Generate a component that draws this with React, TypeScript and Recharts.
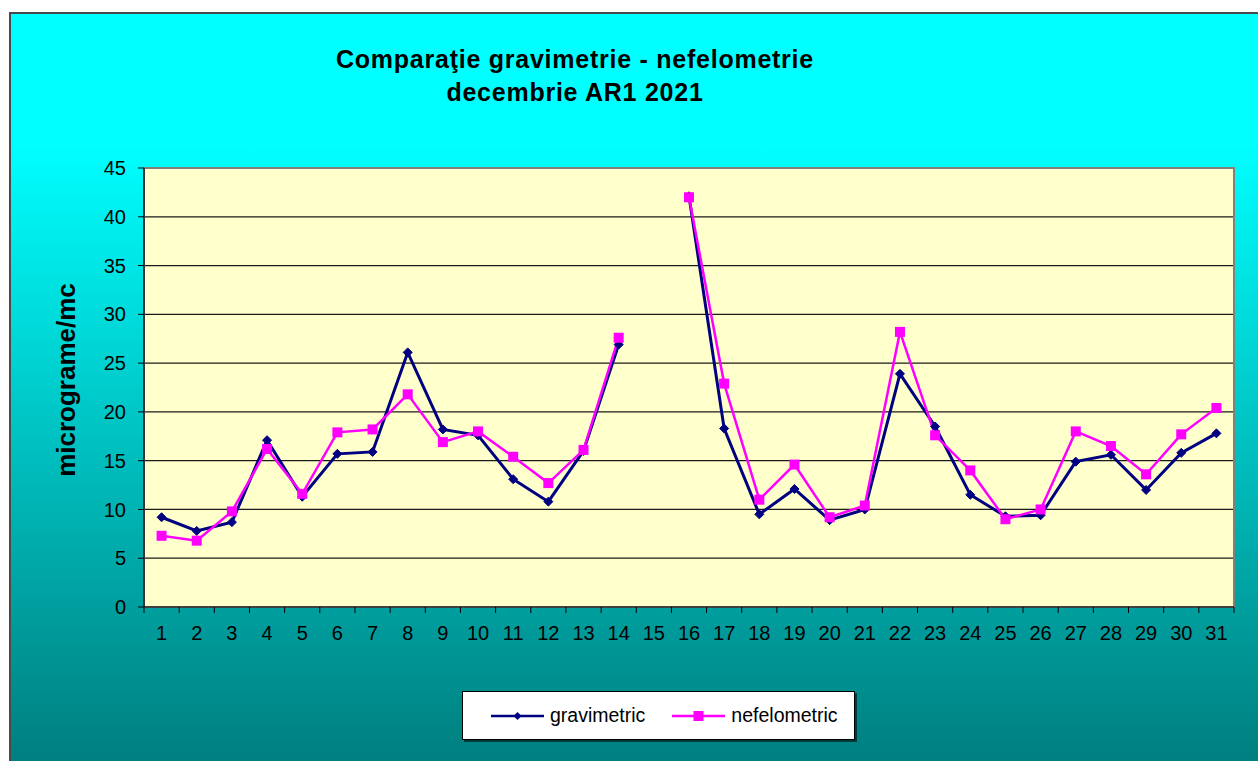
import React from 'react'
import { LineChart, Line, XAxis, YAxis, CartesianGrid, Legend, ReferenceArea, Label } from 'recharts'

// zilele lunii (decembrie 2021)
const days = [1, 2, 3, 4, 5, 6, 7, 8, 9, 10, 11, 12, 13, 14, 15, 16, 17, 18, 19, 20, 21, 22, 23, 24, 25, 26, 27, 28, 29, 30, 31]

// valori in micrograme/mc, ziua 15 lipseste
const gravimetric = [9.2, 7.8, 8.7, 17.1, 11.3, 15.7, 15.9, 26.1, 18.2, 17.6, 13.1, 10.8, 16.0, 26.9, null, 42.1, 18.3, 9.5, 12.1, 8.9, 10.0, 23.9, 18.5, 11.5, 9.3, 9.4, 14.9, 15.6, 12.0, 15.8, 17.8]
const nefelometric = [7.3, 6.8, 9.8, 16.2, 11.6, 17.9, 18.2, 21.8, 16.9, 18.0, 15.4, 12.7, 16.1, 27.6, null, 42.0, 22.9, 11.0, 14.6, 9.2, 10.4, 28.2, 17.6, 14.0, 9.0, 10.0, 18.0, 16.5, 13.6, 17.7, 20.4]

const yTicks = [0, 5, 10, 15, 20, 25, 30, 35, 40, 45]

const CHART_W = 1258
const CHART_H = 761
const MARGIN = { top: 168, right: 24, bottom: 114, left: 84 }
const Y_AXIS_W = 60
const X_AXIS_H = 40
const PLOT_W = CHART_W - MARGIN.left - MARGIN.right - Y_AXIS_W

const FONT = '"Liberation Sans", Arial, Helvetica, sans-serif'

const chartData = days.map((day, i) => ({
  day,
  gravimetric: gravimetric[i],
  nefelometric: nefelometric[i],
}))

const NAVY = '#000080'
const MAGENTA = '#FF00FF'

const Diamond = (props: any) => {
  const { cx, cy, index } = props
  if (cx == null || cy == null || props.value == null) return <g key={`d-${index}`} />
  const r = 4.5
  return (
    <polygon
      key={`d-${index}`}
      points={`${cx},${cy - r} ${cx + r},${cy} ${cx},${cy + r} ${cx - r},${cy}`}
      fill={NAVY}
      stroke={NAVY}
      strokeWidth={1}
    />
  )
}

const Square = (props: any) => {
  const { cx, cy, index } = props
  if (cx == null || cy == null || props.value == null) return <g key={`s-${index}`} />
  const r = 5
  return <rect key={`s-${index}`} x={cx - r} y={cy - r} width={r * 2} height={r * 2} fill={MAGENTA} />
}

// etichetele axei X + liniutele intre categorii
const XTick = (props: any) => {
  const { x, y, payload, index } = props
  const half = PLOT_W / days.length / 2
  const axisY = y - 6
  return (
    <g>
      <line x1={x - half} x2={x - half} y1={axisY} y2={axisY + 6} stroke="#000" strokeWidth={1} />
      {index === days.length - 1 && (
        <line x1={x + half} x2={x + half} y1={axisY} y2={axisY + 6} stroke="#000" strokeWidth={1} />
      )}
      <text x={x} y={axisY + 33} textAnchor="middle" fontSize={20} fill="#000" fontFamily={FONT}>
        {payload.value}
      </text>
    </g>
  )
}

const renderYLabel = () => (
  <text
    x={75}
    y={380}
    transform="rotate(-90, 75, 380)"
    textAnchor="middle"
    fontSize={26}
    fontWeight="bold"
    fill="#000"
    fontFamily={FONT}
  >
    micrograme/mc
  </text>
)

const LegendIcon = ({ color, kind }: { color: string; kind: string }) => (
  <svg width={53} height={14} style={{ display: 'block' }}>
    <line x1={0} x2={53} y1={7} y2={7} stroke={color} strokeWidth={2.5} />
    {kind === 'gravimetric' ? (
      <polygon points="26.5,3 30.5,7 26.5,11 22.5,7" fill={color} />
    ) : (
      <rect x={21.5} y={2} width={10} height={10} fill={color} />
    )}
  </svg>
)

const renderLegend = (props: any) => {
  const { payload } = props
  return (
    <div
      style={{
        width: '100%',
        height: '100%',
        boxSizing: 'border-box',
        background: '#fff',
        border: '1px solid #000',
        boxShadow: '2px 2px 0 rgba(0,0,0,0.55)',
        display: 'flex',
        alignItems: 'center',
        paddingLeft: 28,
        fontFamily: FONT,
        fontSize: 19.5,
        color: '#000',
      }}
    >
      {(payload || []).map((entry: any, i: number) => (
        <div key={entry.value} style={{ display: 'flex', alignItems: 'center', marginLeft: i === 0 ? 0 : 27 }}>
          <LegendIcon color={entry.color} kind={entry.dataKey} />
          <span style={{ marginLeft: 6 }}>{entry.value}</span>
        </div>
      ))}
    </div>
  )
}

export default function App() {
  return (
    <div style={{ position: 'relative', width: CHART_W, height: CHART_H, overflow: 'hidden', background: '#fff', fontFamily: FONT }}>
      <style>{`body { margin: 0; }`}</style>

      {/* fundal cu gradient */}
      <div
        style={{
          position: 'absolute',
          left: 9,
          top: 12,
          width: 1300,
          height: 800,
          border: '2px solid #4a4a4a',
          background: 'linear-gradient(to bottom, #00FFFF 0px, #00FFFF 130px, #008080 740px)',
        }}
      />

      {/* titlu */}
      <div
        style={{
          position: 'absolute',
          left: 275,
          top: 43,
          width: 600,
          textAlign: 'center',
          fontSize: 25,
          fontWeight: 'bold',
          lineHeight: '33px',
          letterSpacing: 0.75,
          color: '#000',
          zIndex: 2,
        }}
      >
        <div>Comparaţie gravimetrie - nefelometrie</div>
        <div>decembrie AR1 2021</div>
      </div>

      <div style={{ position: 'absolute', left: 0, top: 0, zIndex: 1 }}>
        <LineChart width={CHART_W} height={CHART_H} data={chartData} margin={MARGIN}>
          <CartesianGrid vertical={false} horizontal fill="#FFFFCC" fillOpacity={1} stroke="#1a1a1a" strokeWidth={1.2} />
          <ReferenceArea x1={0.5} x2={31.5} y1={0} y2={45} fill="none" stroke="#808080" strokeWidth={2} />
          <XAxis
            type="number"
            dataKey="day"
            domain={[0.5, 31.5]}
            ticks={days}
            interval={0}
            allowDataOverflow
            height={X_AXIS_H}
            tickLine={false}
            tickSize={6}
            tickMargin={0}
            axisLine={{ stroke: '#000', strokeWidth: 1.2 }}
            tick={<XTick />}
          />
          <YAxis
            type="number"
            domain={[0, 45]}
            ticks={yTicks}
            interval={0}
            width={Y_AXIS_W}
            tickSize={6}
            tickMargin={12}
            axisLine={{ stroke: '#000', strokeWidth: 1.2 }}
            tickLine={{ stroke: '#000', strokeWidth: 1 }}
            tick={{ fontSize: 20, fill: '#000', fontFamily: FONT }}
          >
            <Label content={renderYLabel} />
          </YAxis>
          <Legend
            layout="horizontal"
            verticalAlign="middle"
            align="center"
            wrapperStyle={{ left: 462, top: 691, width: 393, height: 49 }}
            content={renderLegend}
          />
          <Line
            type="linear"
            dataKey="gravimetric"
            name="gravimetric"
            stroke={NAVY}
            strokeWidth={3}
            dot={Diamond}
            activeDot={false}
            isAnimationActive={false}
          />
          <Line
            type="linear"
            dataKey="nefelometric"
            name="nefelometric"
            stroke={MAGENTA}
            strokeWidth={2.5}
            dot={Square}
            activeDot={false}
            isAnimationActive={false}
          />
        </LineChart>
      </div>
    </div>
  )
}
